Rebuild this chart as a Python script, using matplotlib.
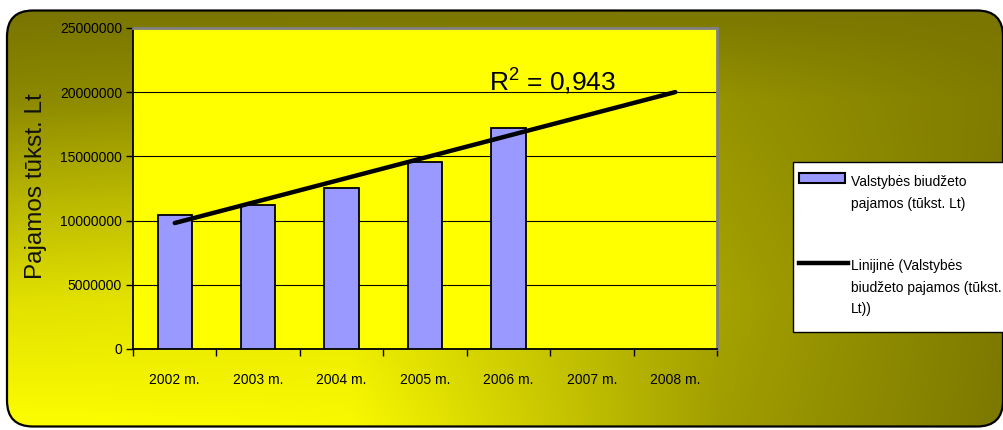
import numpy as np
import matplotlib
matplotlib.use('Agg')
import matplotlib.pyplot as plt
from matplotlib.patches import FancyBboxPatch, Rectangle
from matplotlib.lines import Line2D

# ---------------- data ----------------
categories = ['2002 m.', '2003 m.', '2004 m.', '2005 m.', '2006 m.', '2007 m.', '2008 m.']
revenue = [10450000, 11200000, 12550000, 14600000, 17250000]   # Valstybės biudžeto pajamos (tūkst. Lt)
y_ticks = [0, 5000000, 10000000, 15000000, 20000000, 25000000]
y_label = 'Pajamos tūkst. Lt'
r2_text = 'R$^{2}$ = 0,943'
series_label = 'Valstybės biudžeto\npajamos (tūkst. Lt)'
trend_label = 'Linijinė (Valstybės\nbiudžeto pajamos (tūkst.\nLt))'

# ---------------- style ----------------
plt.rcParams['font.family'] = ['Liberation Sans', 'DejaVu Sans']
plt.rcParams['mathtext.fontset'] = 'custom'
plt.rcParams['mathtext.rm'] = 'Liberation Sans'
plt.rcParams['mathtext.default'] = 'rm'

W, H = 1004, 430
fig = plt.figure(figsize=(W / 100, H / 100), dpi=100)
fig.patch.set_facecolor('white')

# background axes in pixel coordinates
bg = fig.add_axes([0, 0, 1, 1], zorder=0)
bg.set_xlim(0, W)
bg.set_ylim(H, 0)
bg.axis('off')

# gradient field (olive -> yellow), bilinear from a coarse grid
gx = np.array([0, 350, 720, 1004])
gy = np.array([0, 100, 200, 300, 430])
gR = np.array([[118, 118, 120, 120],
               [140, 150, 150, 128],
               [184, 195, 158, 126],
               [224, 232, 165, 126],
               [255, 250, 160, 124]], dtype=float)
xs = np.arange(W) + 0.5
ys = np.arange(H) + 0.5
rows = np.array([np.interp(xs, gx, r) for r in gR])
R = np.array([np.interp(ys, gy, rows[:, j]) for j in range(W)]).T
G = R - 0.03 * (255 - R)
img = np.dstack([R, G, np.zeros_like(R)]) / 255.0

box = FancyBboxPatch((7, 10.5), 996, 416, boxstyle='round,pad=0,rounding_size=26',
                     transform=bg.transData, facecolor='none', edgecolor='black',
                     linewidth=1.6, zorder=3)
im = bg.imshow(img, extent=(0, W, H, 0), aspect='auto', zorder=1, interpolation='bilinear')
im.set_clip_path(box)
bg.add_patch(box)

# ---------------- main chart ----------------
ax = fig.add_axes([133 / W, 1 - 349 / H, (717 - 133) / W, (349 - 28) / H], zorder=2)
ax.set_facecolor('#ffff00')

x = np.arange(len(revenue))
ax.bar(x, revenue, width=0.41, color='#9999ff', edgecolor='black', linewidth=1.3, zorder=3)

xt = np.arange(len(categories))
coef = np.polyfit(x, revenue, 1)
ax.plot(xt, np.polyval(coef, xt), color='black', linewidth=3.2,
        solid_capstyle='round', zorder=4)

ax.set_xlim(-0.5, len(categories) - 0.5)
ax.set_ylim(y_ticks[0], y_ticks[-1])
ax.set_yticks(y_ticks)
ax.set_yticklabels([str(v) for v in y_ticks])
ax.yaxis.grid(True, color='black', linewidth=0.8, zorder=1)
ax.set_axisbelow(True)

ax.set_xticks(np.arange(-0.5, len(categories), 1.0))
ax.set_xticklabels([])
ax.set_xticks(xt, minor=True)
ax.set_xticklabels(categories, minor=True)
ax.tick_params(axis='x', which='major', direction='out', length=5, width=1, color='black')
ax.tick_params(axis='x', which='minor', length=0, pad=17, labelsize=10, labelcolor='black')
ax.tick_params(axis='y', direction='out', length=5, width=1, pad=3, labelsize=10, labelcolor='black')

for s in ['left', 'bottom']:
    ax.spines[s].set_color('black')
    ax.spines[s].set_linewidth(1.3)
for s in ['top', 'right']:
    ax.spines[s].set_color('#808080')
    ax.spines[s].set_linewidth(2)

ax.set_ylabel(y_label, fontsize=17.5, va='center', ha='center', color='#111111')
ax.yaxis.set_label_coords(-0.166, 0.508)

ax.text(0.719, 0.804, r2_text, transform=ax.transAxes, ha='center', va='baseline',
        fontsize=19, color='black', zorder=5)

# ---------------- legend ----------------
bg.add_patch(Rectangle((793, 162), 240, 170, facecolor='white', edgecolor='black',
                       linewidth=1, zorder=4))
bg.add_patch(Rectangle((799, 173), 46, 10, facecolor='#9999ff', edgecolor='black',
                       linewidth=1.5, zorder=5))
bg.add_line(Line2D([799, 848], [262.5, 262.5], color='black', linewidth=3.2, zorder=5))
bg.text(851, 175, series_label, fontsize=10, va='top', ha='left',
        linespacing=1.7, zorder=6)
bg.text(851, 259, trend_label, fontsize=10, va='top', ha='left',
        linespacing=1.7, zorder=6)

fig.savefig('out.png', dpi=100)
